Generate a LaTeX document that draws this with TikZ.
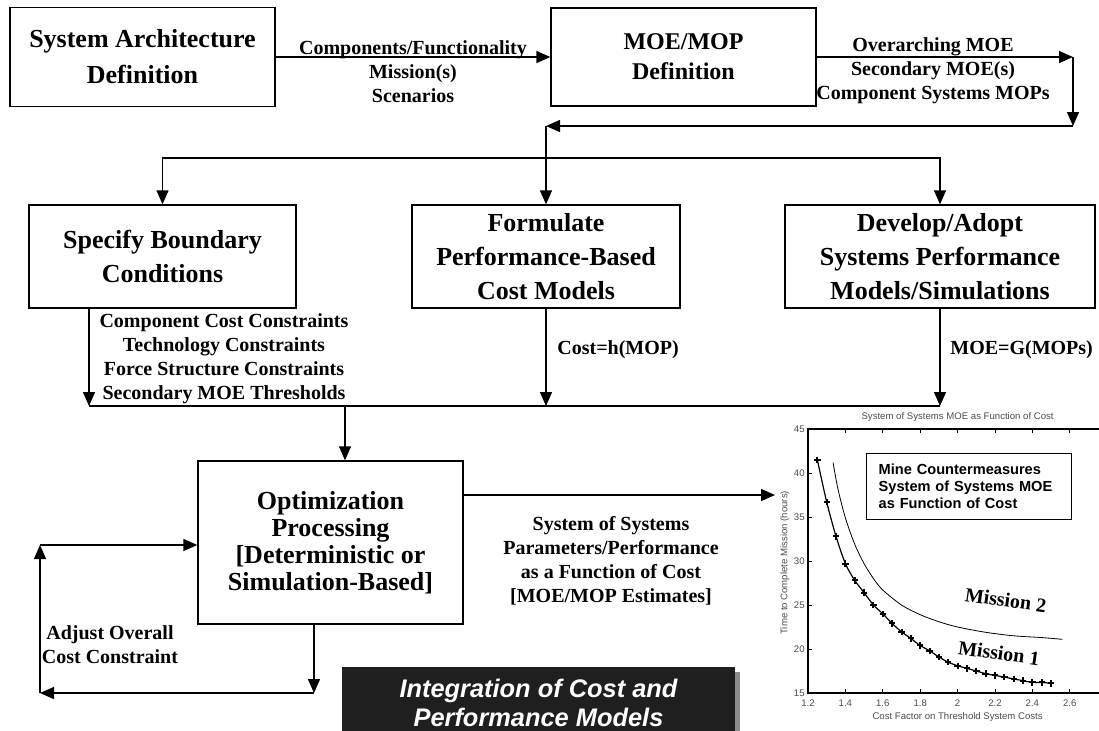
\documentclass[tikz,border=0pt]{standalone}
\usepackage{fontspec}
\setmainfont{Liberation Serif}
\setsansfont{Liberation Sans}
\usetikzlibrary{arrows.meta,shadows,plotmarks}

\begin{document}
\begin{tikzpicture}[
    x = 0.5pt, y = -0.5pt,
    box/.style = {
      rectangle, draw = black, line width = .7pt, fill = white,
      align = center, inner sep = 0pt,
      font = \bfseries\fontsize{13pt}{17pt}\selectfont,
    },
    lbl/.style = {
      align = center, inner sep = 0pt,
      font = \bfseries\fontsize{10pt}{12pt}\selectfont,
    },
    arr/.style = {line width = .7pt, -{Triangle[length = 7pt, width = 6pt]}},
    wire/.style = {line width = .7pt},
    ticklbl/.style = {
      text = black!70, inner sep = 1.5pt,
      font = \sffamily\fontsize{4.8pt}{5.5pt}\selectfont,
    },
  ]

  \useasboundingbox (0,0) rectangle (1099,730);

  % top row
  \node[box, minimum width = 132.5pt, minimum height = 49.5pt,
    font = \bfseries\fontsize{13pt}{18pt}\selectfont]
    (arch) at (142.5,57) {System Architecture\\Definition};
  \node[box, minimum width = 132.5pt, minimum height = 49pt,
    font = \bfseries\fontsize{12pt}{15pt}\selectfont]
    (moe) at (683.5,57) {MOE/MOP\\Definition};

  \draw[arr] (arch.east) to (moe.west);
  \node[lbl] (archlbl) at (413,72) {Components/Functionality\\Mission(s)\\Scenarios};

  \coordinate (ne) at (1073,57);
  \coordinate (se) at (1073,126);
  \draw[arr] (moe.east) to (ne);
  \draw[arr] (ne) to (se);
  \node[lbl] (moelbl) at (933,70.5) {Overarching MOE\\Secondary MOE(s)\\Component Systems MOPs};

  % middle row
  \node[box, minimum width = 133.5pt, minimum height = 51.5pt]
    (bound) at (162.5,256.5) {Specify Boundary\\Conditions};
  \node[box, minimum width = 134pt, minimum height = 51.5pt]
    (cost) at (546,256.5) {Formulate\\Performance-Based\\Cost Models};
  \node[box, minimum width = 155pt, minimum height = 51.5pt]
    (perf) at (940,256.5) {Develop/Adopt\\Systems Performance\\Models/Simulations};

  \coordinate (split) at (cost.north |- se);
  \coordinate (fork) at (546,158);
  \draw[arr] (se) to (split);
  \draw[arr] (split) to (cost.north);
  \draw[arr] (fork) -| (bound.north);
  \draw[arr] (fork) -| (perf.north);

  % collecting line
  \coordinate (bl) at (89,406);
  \coordinate (join) at (345,406);
  \draw[arr] (bl |- bound.south) to (bl);
  \draw[arr] (cost.south) to (cost.south |- bl);
  \draw[arr] (perf.south) to (perf.south |- bl);
  \draw[wire] (bl) to (perf.south |- bl);
  \node[lbl] (boundlbl) at (224,359) {Component Cost Constraints\\Technology Constraints\\Force Structure Constraints\\Secondary MOE Thresholds};
  \node[lbl, anchor = west] (costlbl) at (557,350) {Cost=h(MOP)};
  \node[lbl, anchor = west] (perflbl) at (950,350) {MOE=G(MOPs)};

  % optimization
  \node[box, minimum width = 132.5pt, minimum height = 81.5pt,
    font = \bfseries\fontsize{13pt}{13.5pt}\selectfont]
    (optim) at (330.5,542.5) {Optimization\\Processing\\{}[Deterministic or\\Simulation-Based]};
  \draw[arr] (join) to (join |- optim.north);

  \coordinate (chartin) at (775,495);
  \draw[arr] (chartin -| optim.east) to (chartin);
  \node[lbl] (outlbl) at (611,561) {System of Systems\\Parameters/Performance\\as a Function of Cost\\{}[MOE/MOP Estimates]};

  % feedback loop
  \coordinate (fbmid) at (314,693);
  \coordinate (fbbot) at (40,693);
  \coordinate (fbtop) at (40,545);
  \draw[arr] (fbmid |- optim.south) to (fbmid);
  \draw[arr] (fbmid) to (fbbot);
  \draw[arr] (fbbot) to (fbtop);
  \draw[arr] (fbtop) to (fbtop -| optim.west);
  \node[lbl] (fblbl) at (110,645) {Adjust Overall\\Cost Constraint};

  % banner
  \node[fill = black!88, text = white, align = center, inner sep = 0pt,
    minimum width = 196.5pt, minimum height = 35.5pt,
    drop shadow = {shadow xshift = 2.5pt, shadow yshift = -2.5pt, fill = black!45, opacity = 1},
    font = \sffamily\bfseries\itshape\fontsize{12.7pt}{14.5pt}\selectfont]
    (integ) at (538.5,702.5) {Integration of Cost and\\Performance Models};

  % chart
  \begin{scope}[shift = {(808,693)}, x = 93.5pt, y = 4.4pt, shift = {(-1.2,-15)}]
    \draw[line width = .6pt] (1.2,15) rectangle (2.8,45);
    \foreach \t in {1.2,1.4,1.6,1.8,2,2.2,2.4,2.6} {
      \draw[line width = .4pt] (\t,15) to ++(0pt,2pt);
      \draw[line width = .4pt] (\t,45) to ++(0pt,-2pt);
      \node[ticklbl, below] at (\t,14.6) {\t};
    }
    \foreach \v in {15,20,...,45} {
      \draw[line width = .4pt] (1.2,\v) to ++(2pt,0pt);
      \node[ticklbl, left] at (1.2,\v) {\v};
    }
    \node[ticklbl] at (2,46.4) {System of Systems MOE as Function of Cost};
    \node[ticklbl] at (2,12.3) {Cost Factor on Threshold System Costs};
    \node[ticklbl, rotate = 90] at (1.077,29.8) {Time to Complete Mission (hours)};

    \draw[line width = .4pt] plot[smooth] coordinates {
      (1.334,41.2) (1.36,38.2) (1.40,34.9) (1.45,31.9) (1.50,29.7) (1.55,28.0)
      (1.60,26.7) (1.70,25.0) (1.80,23.9) (1.90,23.1) (2.00,22.5) (2.15,21.9)
      (2.30,21.5) (2.45,21.3) (2.56,21.1)};
    \draw[line width = .6pt] plot[smooth, mark = +, mark size = 1.6pt,
      mark options = {line width = 1pt}] coordinates {
      (1.25,41.5) (1.30,36.7) (1.35,32.8) (1.40,29.7) (1.45,27.8) (1.50,26.4)
      (1.55,25.0) (1.60,24.0) (1.65,22.9) (1.70,21.95) (1.75,21.2) (1.80,20.4)
      (1.85,19.8) (1.90,19.1) (1.95,18.5) (2.00,18.1) (2.05,17.8) (2.10,17.5)
      (2.15,17.2) (2.20,17.0) (2.25,16.8) (2.30,16.6) (2.35,16.4) (2.40,16.2)
      (2.45,16.2) (2.50,16.1)};
  \end{scope}

  \node[draw = black, line width = .7pt, anchor = north west, align = left,
    inner xsep = 6pt, inner ysep = 0pt, text width = 90.5pt, minimum height = 33pt,
    font = \sffamily\bfseries\fontsize{7.3pt}{8.5pt}\selectfont]
    (legend) at (866,453) {Mine Countermeasures\\System of Systems MOE\\as Function of Cost};
  \node[lbl, rotate = -8] (m2) at (1005.7,600) {Mission 2};
  \node[lbl, rotate = -8] (m1) at (999,653) {Mission 1};
\end{tikzpicture}
\end{document}
